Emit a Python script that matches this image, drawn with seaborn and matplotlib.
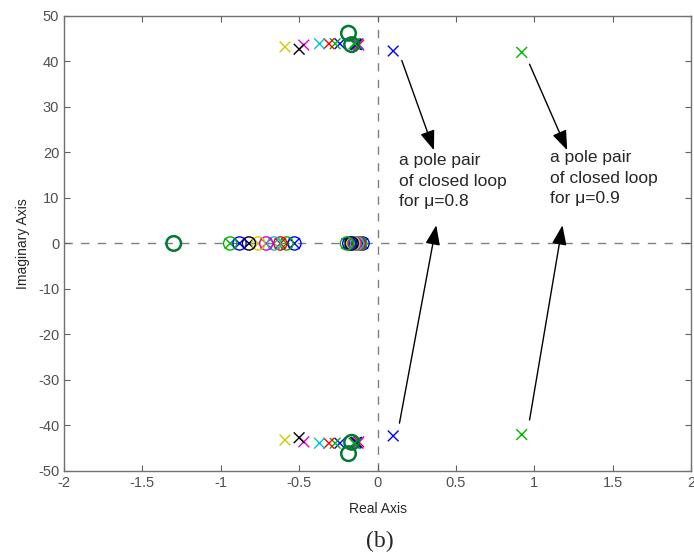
import matplotlib
matplotlib.use('Agg')
import matplotlib.pyplot as plt
import seaborn as sns
import pandas as pd

# one closed-loop system per mu value, MATLAB colour cycle
mu_values = [0.1, 0.2, 0.3, 0.4, 0.5, 0.6, 0.7, 0.8, 0.9]
mu_colors = ['#0000ff', '#00b400', '#ff0000', '#00c8c8', '#e000e0',
             '#cccc00', '#000000', '#0000ff', '#00b400']

# pole/zero pairs on the real axis (drawn as x inside o)
real_far = [-0.53, -0.58, -0.62, -0.66, -0.71, -0.76, -0.82, -0.88, -0.94]
real_near = [-0.095, -0.11, -0.12, -0.13, -0.145, -0.155, -0.165, -0.18, -0.195]

# moving complex pole pair (real part, imag part)
cplx_re = [-0.24, -0.27, -0.31, -0.37, -0.47, -0.59, -0.50, 0.10, 0.92]
cplx_im = [43.9, 43.9, 43.9, 43.9, 43.6, 43.2, 42.7, 42.3, 42.0]

# fixed complex poles near -0.14 +/- j43.8
fixed_re = [-0.14, -0.15, -0.12, -0.13, -0.125, -0.14, -0.14, -0.135, -0.145]
fixed_im = [43.8, 43.9, 43.6, 43.8, 43.9, 43.8, 43.8, 43.7, 43.9]

# open-loop zeros (dark green circles)
ol_zero_re = [-1.30, -0.185, -0.185, -0.165, -0.165]
ol_zero_im = [0.0, 46.2, -46.2, 43.7, -43.7]

rows = []
for i, mu in enumerate(mu_values):
    rows.append((mu, real_far[i], 0.0, 'pole'))
    rows.append((mu, real_far[i], 0.0, 'zero'))
    rows.append((mu, real_near[i], 0.0, 'pole'))
    rows.append((mu, real_near[i], 0.0, 'zero'))
    for s in (1, -1):
        rows.append((mu, fixed_re[i], s * fixed_im[i], 'pole'))
        rows.append((mu, cplx_re[i], s * cplx_im[i], 'pole'))
df = pd.DataFrame(rows, columns=['mu', 'real', 'imag', 'kind'])
df['sys'] = df['mu'].map(lambda m: f'{m:.1f}')
palette = {f'{m:.1f}': c for m, c in zip(mu_values, mu_colors)}

sns.set_style('ticks')
plt.rcParams['font.family'] = ['Liberation Sans', 'DejaVu Sans']
plt.rcParams['axes.unicode_minus'] = False

fig = plt.figure(figsize=(6.94, 5.58), dpi=100)
ax = fig.add_axes([0.0922, 0.156, 0.9035, 0.8154])

ax.axhline(0, color='#808080', lw=1, ls=(0, (6, 6)), zorder=0)
ax.axvline(0, color='#808080', lw=1, ls=(0, (6, 6)), zorder=0)

poles = df[df['kind'] == 'pole']
zeros = df[df['kind'] == 'zero']
sns.scatterplot(data=poles, x='real', y='imag', hue='sys', palette=palette,
                marker='x', s=60, linewidth=1.0, legend=False, ax=ax, zorder=3)
ax.scatter(zeros['real'], zeros['imag'], s=90, facecolors='none',
           edgecolors=[palette[s] for s in zeros['sys']], linewidths=1.0, zorder=3)
ax.scatter(ol_zero_re, ol_zero_im, s=110, facecolors='none',
           edgecolors='#007a33', linewidths=1.8, zorder=4)

# annotations
arrow_kw = dict(arrowstyle='-|>,head_length=1.2,head_width=0.45', color='black',
                lw=1.0, shrinkA=0, shrinkB=0)
ax.annotate('', xy=(0.36, 20.5), xytext=(0.155, 40.2), arrowprops=arrow_kw)
ax.annotate('', xy=(1.21, 20.5), xytext=(0.97, 39.4), arrowprops=arrow_kw)
ax.annotate('', xy=(0.375, 4.0), xytext=(0.14, -39.5), arrowprops=arrow_kw)
ax.annotate('', xy=(1.18, 4.0), xytext=(0.97, -38.8), arrowprops=arrow_kw)
ax.text(0.14, 19.8, 'a pole pair\nof closed loop\nfor μ=0.8', fontsize=12.5,
        va='top', ha='left', linespacing=1.45)
ax.text(1.10, 20.5, 'a pole pair\nof closed loop\nfor μ=0.9', fontsize=12.5,
        va='top', ha='left', linespacing=1.45)

ax.set_xlim(-2, 2)
ax.set_ylim(-50, 50)
ax.set_xticks([-2, -1.5, -1, -0.5, 0, 0.5, 1, 1.5, 2])
ax.set_xticklabels(['-2', '-1.5', '-1', '-0.5', '0', '0.5', '1', '1.5', '2'])
ax.set_yticks(range(-50, 51, 10))
ax.tick_params(direction='in', top=True, right=True, length=4, width=0.8,
               colors='#606060', labelsize=10.5, labelcolor='#505050')
for sp in ax.spines.values():
    sp.set_visible(True)
    sp.set_color('#707070')
    sp.set_linewidth(1.0)
ax.set_xlabel('Real Axis', fontsize=10, labelpad=9)
ax.set_ylabel('Imaginary Axis', fontsize=10, labelpad=6)
fig.text(0.547, 0.01, '(b)', fontsize=17, ha='center', va='bottom',
         family=['Liberation Serif', 'DejaVu Serif'])

fig.savefig('out.png', dpi=100)
